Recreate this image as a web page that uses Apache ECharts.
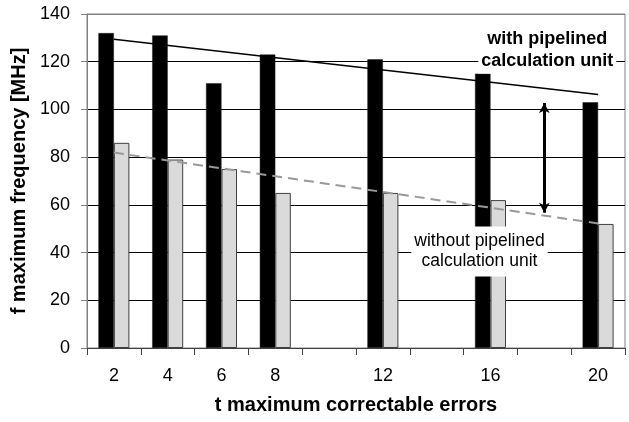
<!DOCTYPE html>
<html><head><meta charset="utf-8">
<script src="https://cdn.jsdelivr.net/npm/echarts@6/dist/echarts.min.js"></script>
<style>html,body{margin:0;padding:0;background:#fff}#c{width:629px;height:422px}</style>
</head><body><div id="c"></div>
<script>
var categories = ['2','4','6','8','10','12','14','16','18','20'];
var tickLabels = ['2','4','6','8','','12','','16','','20'];
var withPipeline = [132,131,111,123,null,121,null,115,null,103];
var withoutPipeline = [86,79,75,65,null,65,null,62,null,52];
var trendWith = [129.4,null,null,null,null,null,null,null,null,106.3];
var trendWithout = [81.9,null,null,null,null,null,null,null,null,52.2];
var arrowFrom = ['18', 102.7];
var arrowTo = ['18', 56.7];
var labelWithPos = ['18', 124.7];
var labelWithoutPos = ['16', 40.4];
var yTicks = [0,20,40,60,80,100,120,140];

var FONT = "'Liberation Sans', Arial, sans-serif";
var chart = echarts.init(document.getElementById('c'), null, {renderer:'canvas'});
chart.setOption({
  animation:false,
  backgroundColor:'#fff',
  grid:{left:87,right:4,top:14,bottom:74,show:true,borderColor:'#808080',borderWidth:1,backgroundColor:'transparent'},
  xAxis:{
    type:'category', data:categories, boundaryGap:true,
    axisLine:{lineStyle:{color:'#404040',width:1}},
    axisTick:{show:true,length:7,alignWithLabel:false,interval:0,lineStyle:{color:'#404040'}},
    axisLabel:{interval:0,margin:19,fontSize:18,color:'#000',fontFamily:FONT,
      formatter:function(v,i){return tickLabels[i];}},
    name:'t maximum correctable errors', nameLocation:'middle', nameGap:47,
    nameTextStyle:{fontSize:20,fontWeight:'bold',color:'#000',fontFamily:FONT}
  },
  yAxis:{
    type:'value', min:yTicks[0], max:yTicks[yTicks.length-1], interval:20,
    axisLine:{show:true,lineStyle:{color:'#808080'}},
    axisTick:{show:true,length:6,lineStyle:{color:'#808080'}},
    axisLabel:{margin:17,fontSize:18,color:'#000',fontFamily:FONT},
    splitLine:{show:true,lineStyle:{color:['#000','#000','#000','#000','#000','#000','#000','#808080'],width:1}},
    name:'f maximum frequency [MHz]', nameLocation:'middle', nameGap:51,
    nameTextStyle:{fontSize:20,fontWeight:'bold',color:'#000',fontFamily:FONT}
  },
  series:[
    {type:'bar', name:'with', data:withPipeline, barWidth:15.5, barGap:'0%',
     itemStyle:{color:'#000',borderColor:'#202020',borderWidth:0.5}},
    {type:'bar', name:'without', data:withoutPipeline, barWidth:15.5, barGap:'0%',
     itemStyle:{color:'#dadada',borderColor:'#404040',borderWidth:1}},
    {type:'line', data:trendWith, connectNulls:true, showSymbol:false, symbol:'none',
     lineStyle:{color:'#000',width:1.5}, z:5,
     markPoint:{symbol:'rect',symbolSize:0,silent:true,
       data:[{coord:labelWithPos,
         label:{show:true,position:'inside',offset:[3,0],formatter:'with pipelined\ncalculation unit',
           fontSize:18,fontWeight:'bold',color:'#000',fontFamily:FONT,lineHeight:22,
           backgroundColor:'#fff',padding:[1,3,1,3]}},
         {coord:labelWithoutPos,
         label:{show:true,position:'inside',offset:[-11,0],formatter:'without pipelined\ncalculation unit',
           fontSize:17.5,color:'#000',fontFamily:FONT,lineHeight:20,
           backgroundColor:'#fff',padding:[5,3,5,3]}}]},
     markLine:{silent:true,symbol:['arrow','arrow'],symbolSize:[8,10],
       lineStyle:{color:'#000',width:3,type:'solid'},label:{show:false},
       data:[[{coord:arrowFrom},{coord:arrowTo}]]}
    },
    {type:'line', data:trendWithout, connectNulls:true, showSymbol:false, symbol:'none',
     lineStyle:{color:'#999',width:2,type:[10,6]}, z:5}
  ]
});
</script></body></html>
